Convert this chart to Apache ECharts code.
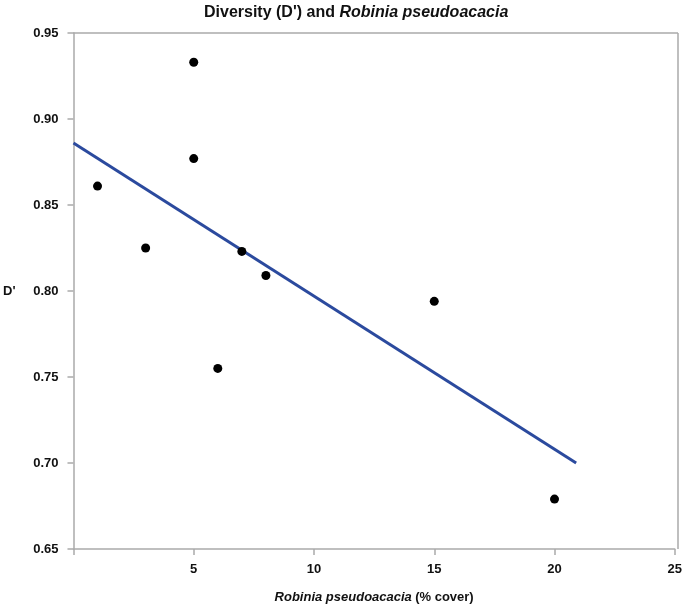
<!DOCTYPE html>
<html>
<head>
<meta charset="utf-8">
<script src="https://cdn.jsdelivr.net/npm/echarts@6/dist/echarts.min.js"></script>
<style>
html,body{margin:0;padding:0;background:#fff;}
#chart{width:685px;height:610px;}
</style>
</head>
<body>
<div id="chart"></div>
<script>
// Data
var coverPct = [1, 3, 5, 5, 6, 7, 8, 15, 20];
var diversity = [0.861, 0.825, 0.933, 0.877, 0.755, 0.823, 0.809, 0.794, 0.679];
var trendX = [0, 20.9];
var trendY = [0.886, 0.700];
var xTicks = [0, 5, 10, 15, 20, 25];
var yTicks = [0.65, 0.70, 0.75, 0.80, 0.85, 0.90, 0.95];

var points = coverPct.map(function (x, i) { return [x, diversity[i]]; });
var trend = trendX.map(function (x, i) { return [x, trendY[i]]; });

var FONT = 'Liberation Sans, Arial, sans-serif';
var chart = echarts.init(document.getElementById('chart'), null, {renderer: 'canvas'});
chart.setOption({
  backgroundColor: '#ffffff',
  animation: false,
  title: {
    text: "{n|Diversity (D') and }{i|Robinia pseudoacacia}",
    left: 199,
    top: 0,
    textStyle: {
      rich: {
        n: {fontFamily: FONT, fontSize: 16, fontWeight: 'bold', color: '#111'},
        i: {fontFamily: FONT, fontSize: 16, fontWeight: 'bold', fontStyle: 'italic', color: '#111'}
      }
    }
  },
  grid: {left: 73, right: 7, top: 33, bottom: 61, containLabel: false},
  xAxis: {
    type: 'value',
    min: xTicks[0],
    max: xTicks[xTicks.length - 1],
    interval: 5,
    name: "{i|Robinia pseudoacacia} {n|(% cover)}",
    nameLocation: 'middle',
    nameGap: 42,
    nameTextStyle: {
      rich: {
        n: {fontFamily: FONT, fontSize: 13, fontWeight: 'bold', color: '#111'},
        i: {fontFamily: FONT, fontSize: 13, fontWeight: 'bold', fontStyle: 'italic', color: '#111'}
      }
    },
    axisLine: {show: true, lineStyle: {color: '#aaaaaa', width: 1.5}},
    axisTick: {show: true, length: 6, lineStyle: {color: '#aaaaaa', width: 1.5}},
    axisLabel: {
      fontFamily: FONT, fontSize: 13, fontWeight: 'bold', color: '#111', margin: 14,
      formatter: function (v) { return v === 0 ? '' : String(v); }
    },
    splitLine: {show: false}
  },
  yAxis: {
    type: 'value',
    min: yTicks[0],
    max: yTicks[yTicks.length - 1],
    interval: 0.05,
    name: "D'",
    nameLocation: 'middle',
    nameGap: 58,
    nameRotate: 0,
    nameTextStyle: {fontFamily: FONT, fontSize: 13, fontWeight: 'bold', color: '#111'},
    axisLine: {show: true, lineStyle: {color: '#aaaaaa', width: 1.5}},
    axisTick: {show: true, length: 6, lineStyle: {color: '#aaaaaa', width: 1.5}},
    axisLabel: {
      fontFamily: FONT, fontSize: 13, fontWeight: 'bold', color: '#111', margin: 15,
      formatter: function (v) { return v.toFixed(2); }
    },
    splitLine: {show: false}
  },
  series: [
    {
      type: 'line',
      data: trend,
      symbol: 'none',
      lineStyle: {color: '#2b4a9e', width: 3},
      z: 2
    },
    {
      type: 'scatter',
      data: points,
      symbol: 'circle',
      symbolSize: 9,
      itemStyle: {color: '#000000', opacity: 1},
      z: 3
    }
  ],
  graphic: [
    {type: 'line', shape: {x1: 73, y1: 33, x2: 678, y2: 33}, style: {stroke: '#aaaaaa', lineWidth: 1.5}, silent: true},
    {type: 'line', shape: {x1: 678, y1: 33, x2: 678, y2: 549}, style: {stroke: '#aaaaaa', lineWidth: 1.5}, silent: true}
  ]
});
</script>
</body>
</html>
